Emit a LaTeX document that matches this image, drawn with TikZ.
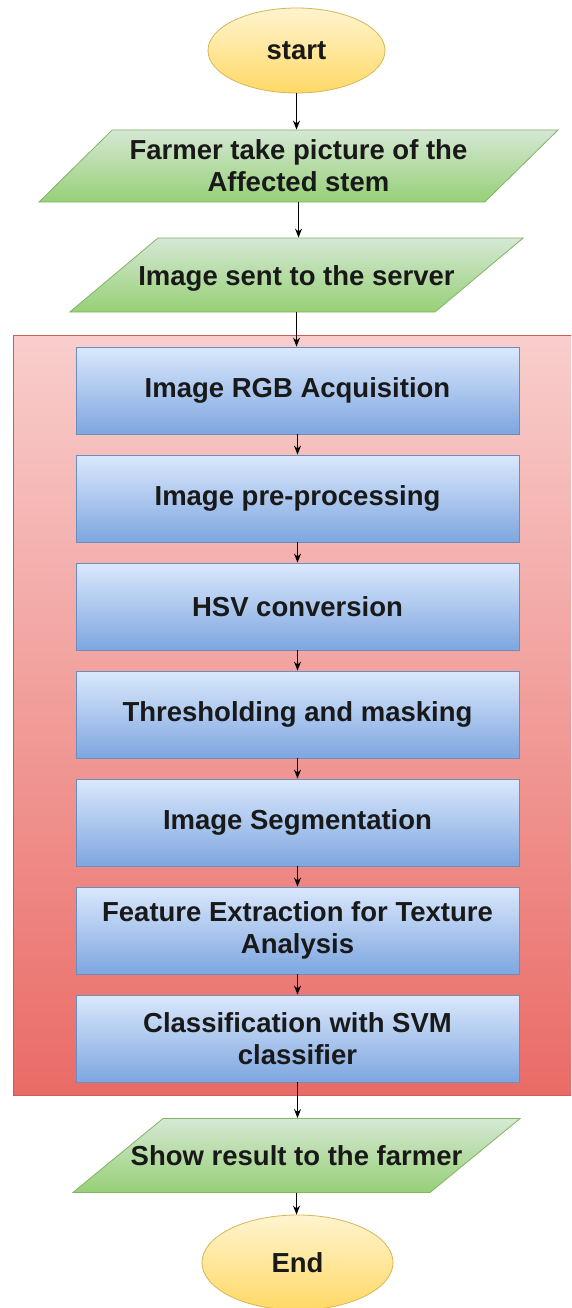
\documentclass[tikz,border=0pt]{standalone}
\usepackage{fontspec}
\setmainfont{Liberation Sans}
\usetikzlibrary{shapes.geometric,arrows.meta}
\definecolor{yelTop}{HTML}{FFF4CF}
\definecolor{yelBot}{HTML}{FFD966}
\definecolor{yelLine}{HTML}{D6B656}
\definecolor{grnTop}{HTML}{D5E8D4}
\definecolor{grnBot}{HTML}{97D077}
\definecolor{grnLine}{HTML}{82B366}
\definecolor{bluTop}{HTML}{DAE8FC}
\definecolor{bluBot}{HTML}{7EA6E0}
\definecolor{bluLine}{HTML}{6C8EBF}
\definecolor{redTop}{HTML}{F8CECC}
\definecolor{redBot}{HTML}{EA6B66}
\definecolor{redLine}{HTML}{D05A55}
\begin{document}
\begin{tikzpicture}[x=1pt,y=-1pt,
  every node/.style={font=\fontsize{27.5}{32}\selectfont\bfseries, text=black!90},
  term/.style={ellipse, draw=yelLine, top color=yelTop, bottom color=yelBot, line width=0.8pt, inner sep=0pt},
  io/.style={trapezium, trapezium stretches body=true, draw=grnLine, top color=grnTop, bottom color=grnBot, line width=0.8pt, inner sep=0pt, align=center},
  oneline/.style={text height=47pt, text depth=27pt},
  proc/.style={rectangle, draw=bluLine, top color=bluTop, bottom color=bluBot, line width=0.8pt, minimum width=443pt, minimum height=87pt, inner sep=0pt, align=center},
  group/.style={rectangle, draw=redLine, top color=redTop, bottom color=redBot, line width=0.8pt, inner sep=0pt},
  arr/.style={-{Stealth[length=9pt,width=7pt]}, line width=1.1pt, black}]
\useasboundingbox (0,0) rectangle (571,1308);
\clip (0,0) rectangle (571,1308);
\fill[white] (0,0) rectangle (571,1308);

\node[group, minimum width=562pt, minimum height=760pt] (container) at (294,715) {};

\node[term, minimum width=177pt, minimum height=85pt] (start) at (296.5,50.5) {start};
\node[io, minimum width=519pt, minimum height=72pt, trapezium left angle=35.5, trapezium right angle=144.5] (p1) at (298.5,166) {Farmer take picture of the\\Affected stem};
\node[io, oneline, minimum width=453pt, trapezium left angle=40, trapezium right angle=140] (p2) at (296.5,275) {\makebox[277pt]{Image sent to the server}};

\node[proc] (b1) at (297.5,390.5) {Image RGB Acquisition};
\node[proc] (b2) at (297.5,498.5) {Image pre-processing};
\node[proc] (b3) at (297.5,606.5) {HSV conversion};
\node[proc] (b4) at (297.5,714.5) {Thresholding and masking};
\node[proc] (b5) at (297.5,822.5) {Image Segmentation};
\node[proc] (b6) at (297.5,930.5) {Feature Extraction for Texture\\Analysis};
\node[proc] (b7) at (297.5,1038.5) {Classification with SVM\\classifier};

\node[io, oneline, minimum width=445pt, trapezium left angle=39.4, trapezium right angle=140.6] (p3) at (296.5,1155.5) {\makebox[267pt]{Show result to the farmer}};
\node[term, minimum width=191pt, minimum height=95pt] (end) at (297.5,1262.5) {End};

\draw[arr] (start.south) -- (start.south |- p1.north);
\draw[arr] (p1.south) -- (p1.south |- p2.north);
\draw[arr] (p2.south) -- (p2.south |- b1.north);
\draw[arr] (b1) -- (b2);
\draw[arr] (b2) -- (b3);
\draw[arr] (b3) -- (b4);
\draw[arr] (b4) -- (b5);
\draw[arr] (b5) -- (b6);
\draw[arr] (b6) -- (b7);
\draw[arr] (b7.south) -- (b7.south |- p3.north);
\draw[arr] (p3.south) -- (p3.south |- end.north);
\end{tikzpicture}
\end{document}
